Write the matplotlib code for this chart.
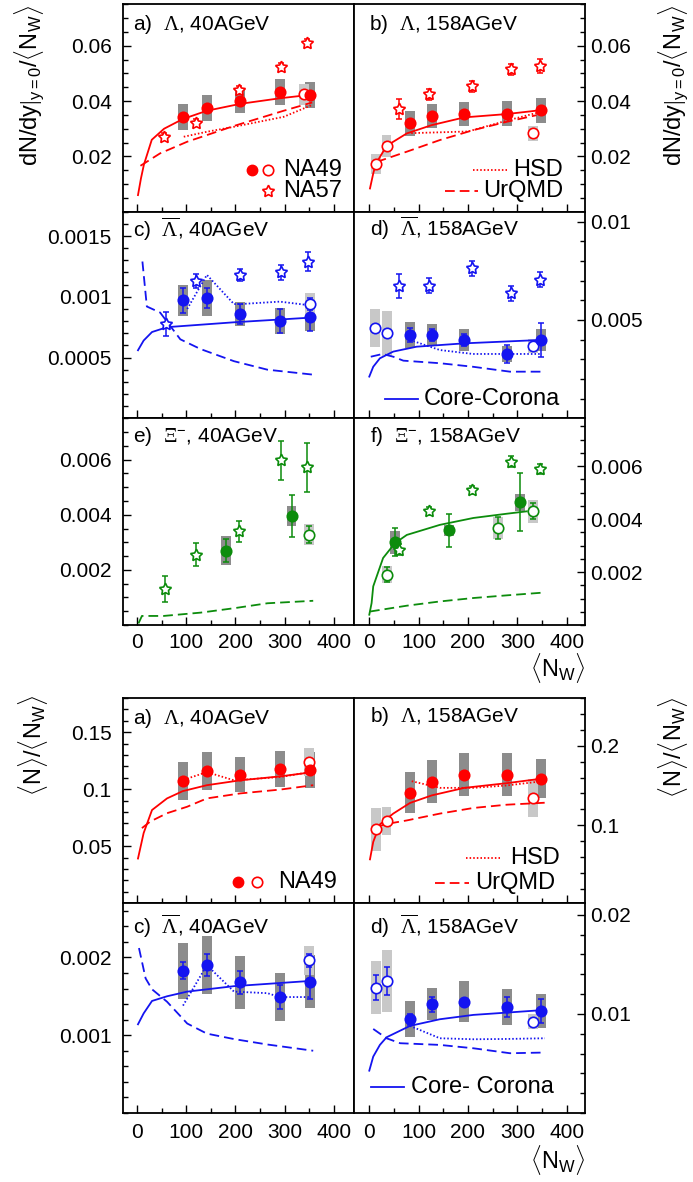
import matplotlib
matplotlib.use('Agg')
import matplotlib.pyplot as plt
from matplotlib.ticker import MultipleLocator

plt.rcParams['font.family'] = ['Liberation Sans', 'DejaVu Sans']
plt.rcParams['mathtext.fontset'] = 'custom'
plt.rcParams['mathtext.rm'] = 'Liberation Serif'
plt.rcParams['mathtext.it'] = 'Liberation Serif:italic'
plt.rcParams['mathtext.sf'] = 'Liberation Sans'
plt.rcParams['lines.scale_dashes'] = False

RED = '#ff0000'
BLUE = '#1414f0'
GREEN = '#0c8c0c'
DARK = '#8c8c8c'
LIGHT = '#c8c8c8'

# ---------------- data: dN/dy|y=0 / <Nw> ----------------
x40 = [93, 142, 210, 291, 351]
x158 = [82.5, 126.5, 192.6, 278.5, 347.4]
x40_na57 = [54, 119, 208, 293, 346]
x158_na57 = [61, 120, 207.5, 287, 346]

# a) Lambda 40
a_y = [0.0343, 0.0374, 0.0400, 0.0434, 0.0422]
a_sys = [0.0048, 0.0047, 0.0043, 0.0047, 0.0047]
a_open_x = [340]
a_open_y = [0.0424]
a_open_sys = [0.0037]
a_na57_y = [0.0271, 0.0322, 0.0440, 0.0524, 0.0609]
a_na57_err = [0.0012, 0.0012, 0.0013, 0.0014, 0.0015]
a_cc_x = [2, 8, 14, 30, 55, 93, 142, 210, 290, 359]
a_cc_y = [0.006, 0.012, 0.017, 0.026, 0.030, 0.0335, 0.0365, 0.039, 0.041, 0.0424]
a_hsd_x = [95, 142, 197, 298, 356]
a_hsd_y = [0.0271, 0.0289, 0.0307, 0.0343, 0.0386]
a_urqmd_x = [7, 47, 102, 197, 298, 356]
a_urqmd_y = [0.0166, 0.0211, 0.0253, 0.0310, 0.0365, 0.0395]

# b) Lambda 158
b_y = [0.0319, 0.0346, 0.0353, 0.0355, 0.0367]
b_sys = [0.0044, 0.0045, 0.0044, 0.0044, 0.0045]
b_open_x = [13, 35, 331]
b_open_y = [0.0172, 0.0238, 0.0283]
b_open_sys = [0.0037, 0.0039, 0.0026]
b_na57_y = [0.037, 0.0425, 0.0454, 0.0515, 0.0527]
b_na57_err = [0.0036, 0.002, 0.002, 0.002, 0.0025]
b_cc_x = [1.4, 8, 13, 35, 76, 126.5, 192.6, 278.5, 347]
b_cc_y = [0.0084, 0.0138, 0.0172, 0.0238, 0.0283, 0.0313, 0.0341, 0.0353, 0.0367]
b_hsd_x = [85, 200, 280, 350]
b_hsd_y = [0.0284, 0.0290, 0.0330, 0.0362]
b_urqmd_x = [15, 76, 143, 211, 278.5, 339]
b_urqmd_y = [0.0180, 0.0217, 0.0259, 0.0295, 0.0325, 0.0349]

# c) anti-Lambda 40
c_y = [0.00097, 0.00099, 0.00086, 0.0008, 0.00083]
c_err = [0.0001, 0.00008, 0.00008, 0.0001, 0.00011]
c_sys = [0.00013, 0.00015, 0.0001, 0.00011, 0.00011]
c_open_x = [351]
c_open_y = [0.00094]
c_open_err = [0.00005]
c_open_sys = [0.00009]
c_na57_x = [59, 120, 209, 293, 347]
c_na57_y = [0.000774, 0.00113, 0.00118, 0.0012, 0.00129]
c_na57_err = [0.0001, 0.00006, 0.00005, 0.00006, 0.00008]
c_cc_x = [2, 13.5, 30.5, 61, 129, 197, 359]
c_cc_y = [0.00056, 0.00064, 0.00071, 0.00075, 0.00077, 0.00079, 0.00083]
c_hsd_x = [102, 142, 197, 210, 290, 351]
c_hsd_y = [0.0009, 0.00118, 0.00094, 0.00094, 0.00096, 0.00093]
c_urqmd_x = [11, 20, 47, 88, 129, 197, 265, 356]
c_urqmd_y = [0.00129, 0.00092, 0.00087, 0.00065, 0.00057, 0.00047, 0.0004, 0.00036]

# d) anti-Lambda 158
d_y = [0.00424, 0.00424, 0.00398, 0.00327, 0.00398]
d_err = [0.00036, 0.0003, 0.0003, 0.00048, 0.00085]
d_sys = [0.00066, 0.00053, 0.00058, 0.00043, 0.00058]
d_open_x = [11.6, 35.2, 331]
d_open_y = [0.00458, 0.00432, 0.00368]
d_open_sys = [0.00098, 0.00113, 0.00034]
d_na57_y = [0.00673, 0.00673, 0.00763, 0.00636, 0.00703]
d_na57_err = [0.0006, 0.00038, 0.00038, 0.00038, 0.00038]
d_cc_x = [0, 8, 21.5, 48.5, 96, 192.6, 346]
d_cc_y = [0.00212, 0.00262, 0.00305, 0.00339, 0.00364, 0.00381, 0.00398]
d_hsd_x = [82.5, 143, 210, 350]
d_hsd_y = [0.00398, 0.00347, 0.00327, 0.00327]
d_urqmd_x = [3, 27, 48.5, 69, 143, 210, 285, 356]
d_urqmd_y = [0.00313, 0.00327, 0.00313, 0.00293, 0.0028, 0.00262, 0.00237, 0.00237]

# e) Xi- 40
e_x = [180, 314]
e_y = [0.0027, 0.00396]
e_err = [0.00042, 0.00075]
e_sys = [0.00053, 0.00036]
e_open_x = [349]
e_open_y = [0.00327]
e_open_err = [0.00031]
e_open_sys = [0.00038]
e_na57_x = [56, 120, 208, 292, 346]
e_na57_y = [0.00131, 0.00255, 0.0034, 0.00597, 0.00573]
e_na57_err = [0.00046, 0.00041, 0.00038, 0.00071, 0.00089]
e_urqmd_x = [3, 10, 54, 129, 197, 265, 358]
e_urqmd_y = [0.00006, 0.00033, 0.00033, 0.00045, 0.00061, 0.00079, 0.00088]

# f) Xi- 158
f_x = [52, 162, 305.5]
f_y = [0.00312, 0.00357, 0.00463]
f_err = [0.00053, 0.00061, 0.0011]
f_sys = [0.00043, 0.00022, 0.00033]
f_open_x = [36.5, 260, 331]
f_open_y = [0.0019, 0.00366, 0.00429]
f_open_err = [0.00029, 0.0004, 0.0003]
f_open_sys = [0.00031, 0.00043, 0.00044]
f_na57_y = [0.00284, 0.00429, 0.0051, 0.00617, 0.00589]
f_na57_err = [0.0002, 0.00015, 0.00015, 0.0002, 0.0002]
f_cc_x = [0, 4.7, 8, 28, 52, 76, 143, 211, 278.5, 319]
f_cc_y = [0.00039, 0.00083, 0.00146, 0.00253, 0.00309, 0.0034, 0.00378, 0.00404, 0.0042, 0.00429]
f_urqmd_x = [1.4, 76, 143, 211, 278.5, 357]
f_urqmd_y = [0.00051, 0.00073, 0.00089, 0.00102, 0.00112, 0.00123]

# ---------------- data: <N> / <Nw> ----------------
# a) Lambda 40
a2_y = [0.107, 0.1157, 0.1128, 0.118, 0.1171]
a2_sys = [0.0165, 0.0167, 0.0157, 0.0157, 0.0157]
a2_open_x = [349]
a2_open_y = [0.1243]
a2_open_sys = [0.0123]
a2_cc_x = [2, 13.5, 30.5, 61, 93, 142, 210, 292, 358]
a2_cc_y = [0.0391, 0.0615, 0.0817, 0.0919, 0.0983, 0.1035, 0.1078, 0.1113, 0.115]
a2_hsd_x = [102, 142, 197, 292, 351]
a2_hsd_y = [0.1093, 0.115, 0.1078, 0.1107, 0.115]
a2_urqmd_x = [10, 27, 61, 102, 142, 210, 292, 358]
a2_urqmd_y = [0.0658, 0.0716, 0.0789, 0.0846, 0.0919, 0.0963, 0.0997, 0.1035]

# b) Lambda 158
b2_y = [0.1408, 0.155, 0.1638, 0.1638, 0.1584]
b2_sys = [0.0256, 0.0267, 0.027, 0.0265, 0.0244]
b2_open_x = [13, 35, 331]
b2_open_y = [0.095, 0.1054, 0.1346]
b2_open_sys = [0.027, 0.0177, 0.024]
b2_cc_x = [1.4, 8, 21.5, 48.5, 82.5, 126.5, 192.6, 278.5, 347]
b2_cc_y = [0.057, 0.079, 0.101, 0.1146, 0.128, 0.1375, 0.147, 0.1529, 0.1584]
b2_hsd_x = [86, 143, 211, 278.5, 346]
b2_hsd_y = [0.1554, 0.147, 0.147, 0.150, 0.155]
b2_urqmd_x = [11.6, 48.5, 76, 143, 211, 278.5, 356]
b2_urqmd_y = [0.098, 0.103, 0.106, 0.1146, 0.1217, 0.1258, 0.1283]

# c) anti-Lambda 40
c2_y = [0.00183, 0.0019, 0.00168, 0.00149, 0.00169]
c2_err = [0.00011, 0.00014, 0.00015, 0.00015, 0.00022]
c2_sys = [0.00036, 0.00037, 0.00034, 0.00031, 0.00034]
c2_open_x = [349]
c2_open_y = [0.00196]
c2_open_err = [0.00008]
c2_open_sys = [0.00019]
c2_cc_x = [2, 13.5, 30.5, 61, 102, 197, 358]
c2_cc_y = [0.00114, 0.00128, 0.00144, 0.0015, 0.00156, 0.00163, 0.0017]
c2_hsd_x = [93.5, 142, 197, 265, 290, 351]
c2_hsd_y = [0.00138, 0.0019, 0.00156, 0.00154, 0.00149, 0.00149]
c2_urqmd_x = [4, 17.5, 30.5, 61, 102, 142, 197, 265, 358]
c2_urqmd_y = [0.00212, 0.00173, 0.00159, 0.00143, 0.00115, 0.00102, 0.00095, 0.00088, 0.0008]

# d) anti-Lambda 158
d2_y = [0.00946, 0.01098, 0.01124, 0.01068, 0.0103]
d2_err = [0.00055, 0.00075, 0.0, 0.001, 0.0012]
d2_sys = [0.0018, 0.0016, 0.0021, 0.0018, 0.0017]
d2_open_x = [13, 35.2, 331]
d2_open_y = [0.01266, 0.01333, 0.00922]
d2_open_err = [0.00126, 0.0014, 0.0]
d2_open_sys = [0.0027, 0.0031, 0.00076]
d2_cc_x = [0, 8, 21.5, 35, 82.5, 143, 211, 278.5, 356]
d2_cc_y = [0.00427, 0.00569, 0.00687, 0.00764, 0.00879, 0.00946, 0.0099, 0.01013, 0.0104]
d2_hsd_x = [82.5, 143, 211, 278.5, 356]
d2_hsd_y = [0.00879, 0.00754, 0.00744, 0.00747, 0.00754]
d2_urqmd_x = [8, 35, 62.5, 143, 211, 285, 356]
d2_urqmd_y = [0.00848, 0.00754, 0.00704, 0.00687, 0.00653, 0.00603, 0.0061]

DASH = (0, (7, 3.6))
DOT = (0, (1.1, 1.5))
LW = 1.3
STAR = (5, 1, 0)


def boxes(ax, x, y, s, col):
    ax.bar(x, [2 * v for v in s], bottom=[a - b for a, b in zip(y, s)],
           width=20, color=col, linewidth=0, zorder=1)


def points(ax, x, y, err, color, face, marker='o', ms=7.5):
    ax.errorbar(x, y, yerr=err, fmt='none', ecolor=color, elinewidth=1.1,
                capsize=2, capthick=1.1, zorder=3)
    ax.plot(x, y, linestyle='none', marker=marker, color=color, mfc=face, mec=color,
            ms=ms, mew=1.2, zorder=4)


def curve(ax, x, y, color, ls):
    ax.plot(x, y, color=color, lw=LW, linestyle=ls, zorder=2)


def style(ax, side, ylim, yt, ytl, minor, xlabels, xlim):
    ax.set_xlim(xlim)
    ax.set_ylim(ylim)
    ax.set_xticks([0, 100, 200, 300, 400])
    ax.set_xticklabels(['0', '100', '200', '300', '400'])
    ax.xaxis.set_minor_locator(MultipleLocator(50))
    ax.set_yticks(yt)
    ax.set_yticklabels(ytl)
    ax.yaxis.set_minor_locator(MultipleLocator(minor))
    left = side == 'left'
    ax.tick_params(which='both', direction='in', top=False, bottom=True,
                   left=left, right=not left, labelleft=left, labelright=not left,
                   labelbottom=xlabels, labelsize=15, width=1.0)
    ax.tick_params(which='major', length=6)
    ax.tick_params(which='minor', length=3.5)
    ax.tick_params(axis='y', pad=8 if left else 4)
    ax.tick_params(axis='x', pad=6)
    for sp in ax.spines.values():
        sp.set_linewidth(1.3)


fig = plt.figure(figsize=(6.93, 11.82), dpi=100)
L = (0.1771, 0.3338)
R = (0.5108, 0.3333)
XL = (-29, 441)
XR = (-31, 437)


def add(col, bottom, height):
    return fig.add_axes([col[0], bottom, col[1], height])


# ---- top group ----
ax = add(L, 0.8209, 0.1755)
boxes(ax, x40, a_y, a_sys, DARK)
boxes(ax, a_open_x, a_open_y, a_open_sys, LIGHT)
curve(ax, a_cc_x, a_cc_y, RED, '-')
curve(ax, a_hsd_x, a_hsd_y, RED, DOT)
curve(ax, a_urqmd_x, a_urqmd_y, RED, DASH)
points(ax, a_open_x, a_open_y, None, RED, 'white')
points(ax, x40, a_y, None, RED, RED)
points(ax, x40_na57, a_na57_y, a_na57_err, RED, 'white', STAR, 9)
style(ax, 'left', (0, 0.075), [0.02, 0.04, 0.06], ['0.02', '0.04', '0.06'], 0.005, False, XL)
ax.text(0.045, 0.90, r'a)  $\Lambda$, 40AGeV', transform=ax.transAxes, fontsize=15, va='center')
ax.plot([0.560], [0.200], 'o', color=RED, ms=7.5, transform=ax.transAxes)
ax.plot([0.630], [0.200], 'o', color=RED, mfc='white', mew=1.2, ms=7.5, transform=ax.transAxes)
ax.plot([0.630], [0.100], marker=STAR, color=RED, mfc='white', mew=1.2, ms=9, transform=ax.transAxes)
ax.text(0.693, 0.200, 'NA49', transform=ax.transAxes, fontsize=17, va='center')
ax.text(0.693, 0.100, 'NA57', transform=ax.transAxes, fontsize=17, va='center')

ax = add(R, 0.8209, 0.1755)
boxes(ax, x158, b_y, b_sys, DARK)
boxes(ax, b_open_x, b_open_y, b_open_sys, LIGHT)
curve(ax, b_cc_x, b_cc_y, RED, '-')
curve(ax, b_hsd_x, b_hsd_y, RED, DOT)
curve(ax, b_urqmd_x, b_urqmd_y, RED, DASH)
points(ax, b_open_x, b_open_y, None, RED, 'white')
points(ax, x158, b_y, None, RED, RED)
points(ax, x158_na57, b_na57_y, b_na57_err, RED, 'white', STAR, 9)
style(ax, 'right', (0, 0.075), [0.02, 0.04, 0.06], ['0.02', '0.04', '0.06'], 0.005, False, XR)
ax.text(0.066, 0.90, r'b)  $\Lambda$, 158AGeV', transform=ax.transAxes, fontsize=15, va='center')
ax.plot([0.515, 0.662], [0.201, 0.201], color=RED, lw=LW, linestyle=DOT, transform=ax.transAxes)
ax.plot([0.394, 0.537], [0.101, 0.101], color=RED, lw=LW, linestyle=DASH, transform=ax.transAxes)
ax.text(0.688, 0.201, 'HSD', transform=ax.transAxes, fontsize=17, va='center')
ax.text(0.557, 0.101, 'UrQMD', transform=ax.transAxes, fontsize=17, va='center')

ax = add(L, 0.6461, 0.1748)
boxes(ax, x40, c_y, c_sys, DARK)
boxes(ax, c_open_x, c_open_y, c_open_sys, LIGHT)
curve(ax, c_cc_x, c_cc_y, BLUE, '-')
curve(ax, c_hsd_x, c_hsd_y, BLUE, DOT)
curve(ax, c_urqmd_x, c_urqmd_y, BLUE, DASH)
points(ax, c_open_x, c_open_y, c_open_err, BLUE, 'white')
points(ax, x40, c_y, c_err, BLUE, BLUE)
points(ax, c_na57_x, c_na57_y, c_na57_err, BLUE, 'white', STAR, 9)
style(ax, 'left', (0, 0.0017), [0.0005, 0.001, 0.0015], ['0.0005', '0.001', '0.0015'], 0.0001, False, XL)
ax.text(0.045, 0.913, r'c)  $\overline{\Lambda}$, 40AGeV', transform=ax.transAxes, fontsize=15, va='center')

ax = add(R, 0.6461, 0.1748)
boxes(ax, x158, d_y, d_sys, DARK)
boxes(ax, d_open_x, d_open_y, d_open_sys, LIGHT)
curve(ax, d_cc_x, d_cc_y, BLUE, '-')
curve(ax, d_hsd_x, d_hsd_y, BLUE, DOT)
curve(ax, d_urqmd_x, d_urqmd_y, BLUE, DASH)
points(ax, d_open_x, d_open_y, None, BLUE, 'white')
points(ax, x158, d_y, d_err, BLUE, BLUE)
points(ax, x158_na57, d_na57_y, d_na57_err, BLUE, 'white', STAR, 9)
style(ax, 'right', (0, 0.0105), [0.005, 0.01], ['0.005', '0.01'], 0.001, False, XR)
ax.text(0.069, 0.921, r'd)  $\overline{\Lambda}$, 158AGeV', transform=ax.transAxes, fontsize=15, va='center')
ax.plot([0.134, 0.277], [0.093, 0.093], color=BLUE, lw=LW, transform=ax.transAxes)
ax.text(0.303, 0.093, 'Core-Corona', transform=ax.transAxes, fontsize=17, va='center')

ax = add(L, 0.4712, 0.1749)
boxes(ax, e_x, e_y, e_sys, DARK)
boxes(ax, e_open_x, e_open_y, e_open_sys, LIGHT)
curve(ax, e_urqmd_x, e_urqmd_y, GREEN, DASH)
points(ax, e_open_x, e_open_y, e_open_err, GREEN, 'white')
points(ax, e_x, e_y, e_err, GREEN, GREEN)
points(ax, e_na57_x, e_na57_y, e_na57_err, GREEN, 'white', STAR, 9)
style(ax, 'left', (0, 0.0075), [0.002, 0.004, 0.006], ['0.002', '0.004', '0.006'], 0.0005, True, XL)
ax.text(0.045, 0.911, r'e)  $\Xi^{\mathsf{-}}$, 40AGeV', transform=ax.transAxes, fontsize=15, va='center')

ax = add(R, 0.4712, 0.1749)
boxes(ax, f_x, f_y, f_sys, DARK)
boxes(ax, f_open_x, f_open_y, f_open_sys, LIGHT)
curve(ax, f_cc_x, f_cc_y, GREEN, '-')
curve(ax, f_urqmd_x, f_urqmd_y, GREEN, DASH)
points(ax, f_open_x, f_open_y, f_open_err, GREEN, 'white')
points(ax, f_x, f_y, f_err, GREEN, GREEN)
points(ax, x158_na57, f_na57_y, f_na57_err, GREEN, 'white', STAR, 9)
style(ax, 'right', (0, 0.0078), [0.002, 0.004, 0.006], ['0.002', '0.004', '0.006'], 0.0005, True, XR)
ax.text(0.069, 0.911, r'f)  $\Xi^{\mathsf{-}}$, 158AGeV', transform=ax.transAxes, fontsize=15, va='center')

# ---- bottom group ----
ax = add(L, 0.2360, 0.1734)
boxes(ax, x40, a2_y, a2_sys, DARK)
boxes(ax, a2_open_x, a2_open_y, a2_open_sys, LIGHT)
curve(ax, a2_cc_x, a2_cc_y, RED, '-')
curve(ax, a2_hsd_x, a2_hsd_y, RED, DOT)
curve(ax, a2_urqmd_x, a2_urqmd_y, RED, DASH)
points(ax, a2_open_x, a2_open_y, None, RED, 'white')
points(ax, x40, a2_y, None, RED, RED)
style(ax, 'left', (0, 0.18), [0.05, 0.1, 0.15], ['0.05', '0.1', '0.15'], 0.01, False, XL)
ax.text(0.045, 0.901, r'a)  $\Lambda$, 40AGeV', transform=ax.transAxes, fontsize=15, va='center')
ax.plot([0.50], [0.101], 'o', color=RED, ms=7.5, transform=ax.transAxes)
ax.plot([0.579], [0.101], 'o', color=RED, mfc='white', mew=1.2, ms=7.5, transform=ax.transAxes)
ax.text(0.673, 0.101, 'NA49', transform=ax.transAxes, fontsize=17, va='center')

ax = add(R, 0.2360, 0.1734)
boxes(ax, x158, b2_y, b2_sys, DARK)
boxes(ax, b2_open_x, b2_open_y, b2_open_sys, LIGHT)
curve(ax, b2_cc_x, b2_cc_y, RED, '-')
curve(ax, b2_hsd_x, b2_hsd_y, RED, DOT)
curve(ax, b2_urqmd_x, b2_urqmd_y, RED, DASH)
points(ax, b2_open_x, b2_open_y, None, RED, 'white')
points(ax, x158, b2_y, None, RED, RED)
style(ax, 'right', (0.002, 0.26), [0.1, 0.2], ['0.1', '0.2'], 0.02, False, XR)
ax.text(0.069, 0.909, r'b)  $\Lambda$, 158AGeV', transform=ax.transAxes, fontsize=15, va='center')
ax.plot([0.485, 0.632], [0.218, 0.218], color=RED, lw=LW, linestyle=DOT, transform=ax.transAxes)
ax.plot([0.35, 0.499], [0.096, 0.096], color=RED, lw=LW, linestyle=DASH, transform=ax.transAxes)
ax.text(0.674, 0.218, 'HSD', transform=ax.transAxes, fontsize=17, va='center')
ax.text(0.524, 0.096, 'UrQMD', transform=ax.transAxes, fontsize=17, va='center')

ax = add(L, 0.0584, 0.1777)
boxes(ax, x40, c2_y, c2_sys, DARK)
boxes(ax, c2_open_x, c2_open_y, c2_open_sys, LIGHT)
curve(ax, c2_cc_x, c2_cc_y, BLUE, '-')
curve(ax, c2_hsd_x, c2_hsd_y, BLUE, DOT)
curve(ax, c2_urqmd_x, c2_urqmd_y, BLUE, DASH)
points(ax, c2_open_x, c2_open_y, c2_open_err, BLUE, 'white')
points(ax, x40, c2_y, c2_err, BLUE, BLUE)
style(ax, 'left', (0, 0.0027), [0.001, 0.002], ['0.001', '0.002'], 0.0002, True, XL)
ax.tick_params(axis='x', pad=7)
ax.text(0.045, 0.887, r'c)  $\overline{\Lambda}$, 40AGeV', transform=ax.transAxes, fontsize=15, va='center')

ax = add(R, 0.0584, 0.1777)
boxes(ax, x158, d2_y, d2_sys, DARK)
boxes(ax, d2_open_x, d2_open_y, d2_open_sys, LIGHT)
curve(ax, d2_cc_x, d2_cc_y, BLUE, '-')
curve(ax, d2_hsd_x, d2_hsd_y, BLUE, DOT)
curve(ax, d2_urqmd_x, d2_urqmd_y, BLUE, DASH)
points(ax, d2_open_x, d2_open_y, d2_open_err, BLUE, 'white')
points(ax, x158, d2_y, d2_err, BLUE, BLUE)
style(ax, 'right', (0, 0.0212), [0.01, 0.02], ['0.01', '0.02'], 0.002, True, XR)
ax.tick_params(axis='x', pad=7)
ax.text(0.069, 0.887, r'd)  $\overline{\Lambda}$, 158AGeV', transform=ax.transAxes, fontsize=15, va='center')
ax.plot([0.072, 0.216], [0.125, 0.125], color=BLUE, lw=LW, transform=ax.transAxes)
ax.text(0.246, 0.125, 'Core- Corona', transform=ax.transAxes, fontsize=17, va='center')

# ---- axis titles ----
ylab_top = r'dN/dy$|_{\mathsf{y=0}}$/$\langle$N$_{\mathsf{W}}\rangle$'
ylab_bot = r'$\langle$N$\rangle$/$\langle$N$_{\mathsf{W}}\rangle$'
xlab = r'$\langle$N$_{\mathsf{W}}\rangle$'
fig.text(29 / 693, 1 - 5 / 1182, ylab_top, rotation=90, ha='center', va='top', fontsize=17)
fig.text(673 / 693, 1 - 5 / 1182, ylab_top, rotation=90, ha='center', va='top', fontsize=17)
fig.text(33 / 693, 1 - 695 / 1182, ylab_bot, rotation=90, ha='center', va='top', fontsize=17)
fig.text(673 / 693, 1 - 697 / 1182, ylab_bot, rotation=90, ha='center', va='top', fontsize=17)
fig.text(585 / 693, 1 - 668 / 1182, xlab, ha='right', va='center', fontsize=17)
fig.text(585 / 693, 1 - 1160 / 1182, xlab, ha='right', va='center', fontsize=17)

fig.savefig('out.png', dpi=100)
